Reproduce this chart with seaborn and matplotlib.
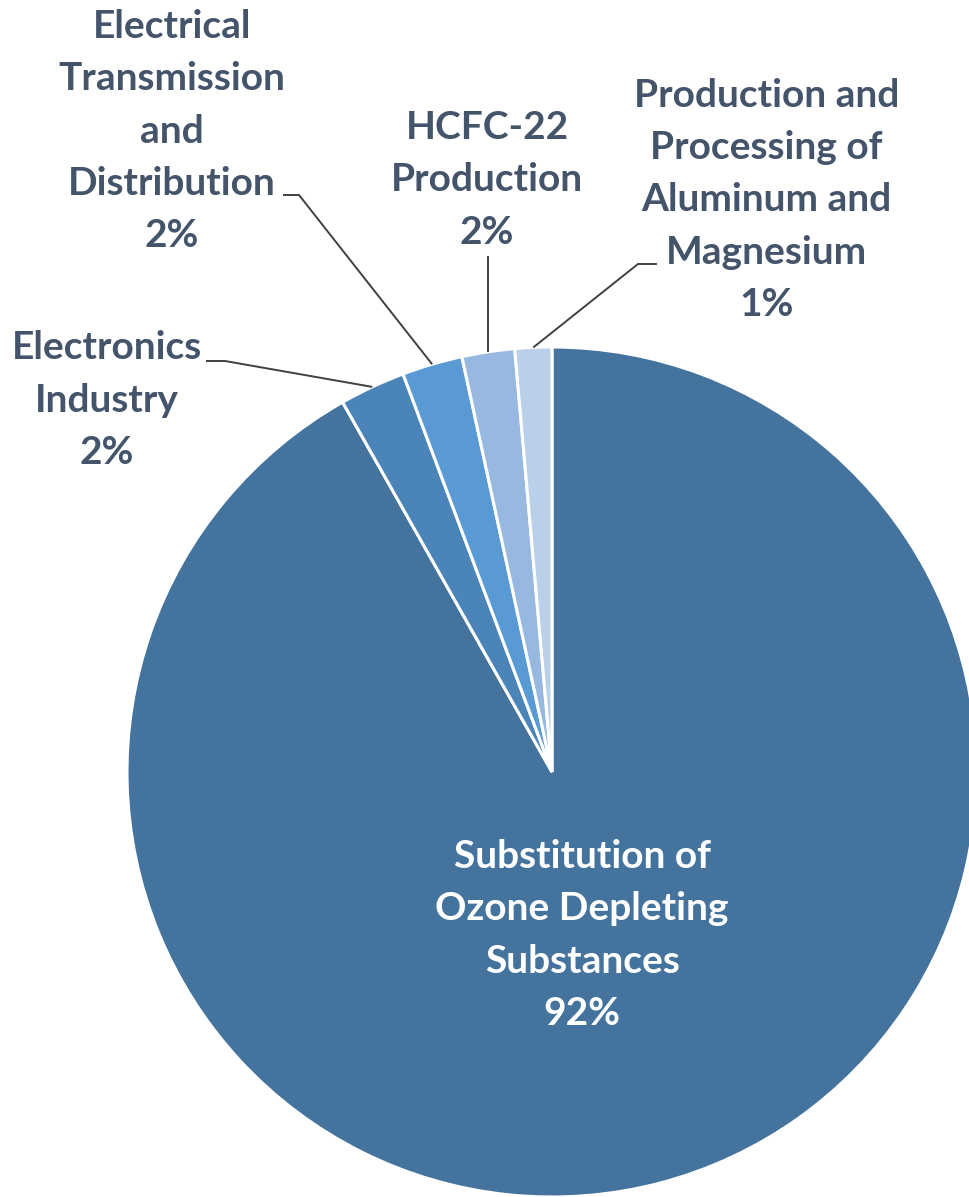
import numpy as np
import matplotlib
matplotlib.use("Agg")
import matplotlib.pyplot as plt
import seaborn as sns

# ---- data ----
categories = [
    "Substitution of\nOzone Depleting\nSubstances",
    "Electronics\nIndustry",
    "Electrical\nTransmission\nand\nDistribution",
    "HCFC-22\nProduction",
    "Production and\nProcessing of\nAluminum and\nMagnesium",
]
shares = [91.8, 2.5, 2.3, 2.0, 1.4]
pct_labels = ["92%", "2%", "2%", "2%", "1%"]
colors = ["#44739E", "#4A84B9", "#5A9AD4", "#98B9DF", "#BACFE8"]

sns.set_style("white")
plt.rcParams["font.family"] = ["Lato", "DejaVu Sans"]

fig = plt.figure(figsize=(9.70, 11.97), dpi=100)
ax = fig.add_axes([0, 0, 1, 1])
ax.set_axis_off()

wedges, _ = ax.pie(
    shares, colors=colors, startangle=90, counterclock=False,
    radius=1.0, center=(0, 0),
    wedgeprops=dict(edgecolor="white", linewidth=2.2),
)
ax.set_xlim(-552 / 425, (970 - 552) / 425)
ax.set_ylim((772 - 1197) / 425, 772 / 425)
ax.set_aspect("equal")

txt_color = "#44546A"
fs = 28
ls = 1.6

# label positions (layout), text block centers in data units
label_pos = [
    (0.071, -0.384),
    (-1.047, 0.875),
    (-0.894, 1.508),
    (-0.153, 1.393),
    (0.504, 1.346),
]

def px(x, y):
    return ((x - 552) / 425, (772 - y) / 425)

elbows = [
    None,
    (px(206, 361), px(225, 361)),
    (px(283, 195), px(299, 195)),
    "vertical",
    (px(657, 264), px(638, 264)),
]

for i, (w, cat, pct) in enumerate(zip(wedges, categories, pct_labels)):
    x, y = label_pos[i]
    c = "white" if i == 0 else txt_color
    ax.text(x, y, f"{cat}\n{pct}", ha="center", va="center",
            multialignment="center", fontsize=fs, fontweight="bold",
            color=c, linespacing=ls)
    if elbows[i] is None:
        continue
    mid = np.deg2rad((w.theta1 + w.theta2) / 2)
    rx, ry = np.cos(mid) * 1.0, np.sin(mid) * 1.0
    if elbows[i] == "vertical":
        ax.plot([rx, rx], [(772 - 256) / 425, ry], color="#404040", lw=1.4,
                solid_capstyle="butt")
    else:
        (sx, sy), (ex, ey) = elbows[i]
        ax.plot([sx, ex, rx], [sy, ey, ry], color="#404040", lw=1.4,
                solid_capstyle="butt", solid_joinstyle="miter")

fig.savefig("out.png", dpi=100, facecolor="white")
